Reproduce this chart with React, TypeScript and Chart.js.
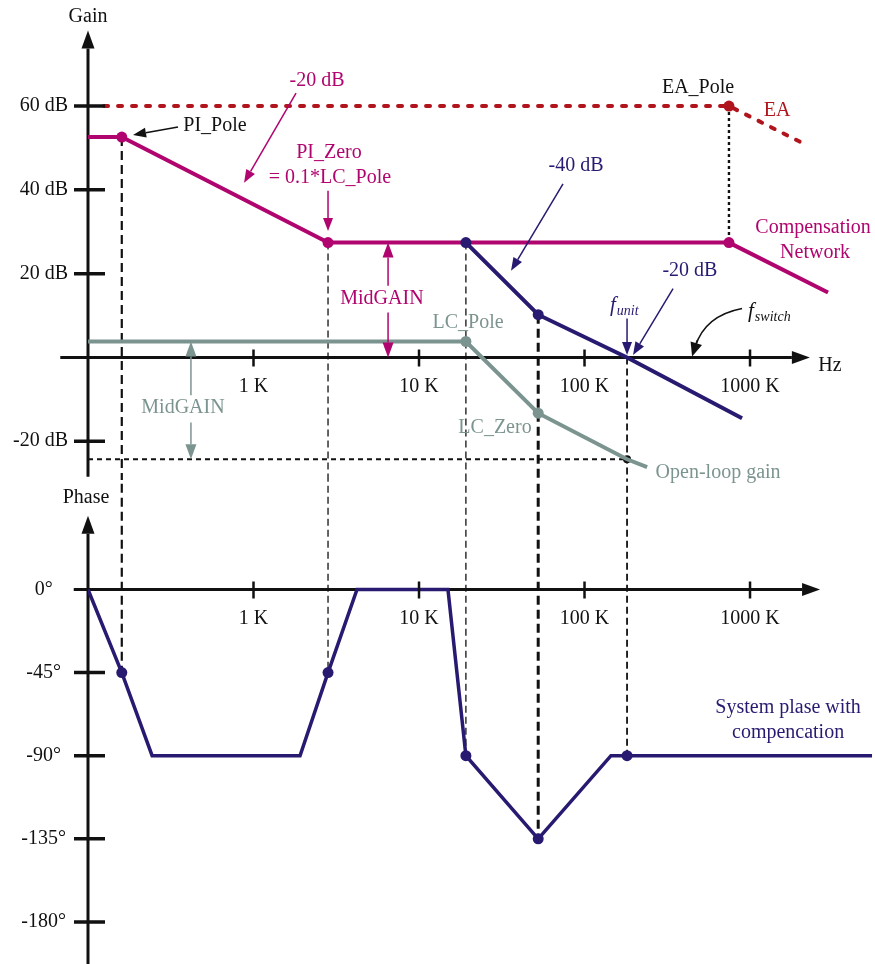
import React, { useEffect, useRef } from 'react';
import { Chart, registerables } from 'chart.js';
Chart.register(...registerables);

const FONT = '"Liberation Serif", "Times New Roman", Times, serif';
const C_MAG = '#b0046e';
const C_NAVY = '#281a70';
const C_GRAY = '#7c9490';
const C_RED = '#b0141c';
const C_BLACK = '#111111';

// frequency axis (Hz, log)
const F_MIN = 100;
const F_MAX = 5.69e6;
const FREQ_TICKS = [1e3, 1e4, 1e5, 1e6];
const FREQ_TICK_LABELS = ['1 K', '10 K', '100 K', '1000 K'];

// gain axis (dB)
const GAIN_MIN = -29.25;
const GAIN_MAX = 85.3;
const GAIN_AXIS_END = -28.5;
const GAIN_TICKS = [60, 40, 20, -20];
const GAIN_TICK_LABELS = ['60 dB', '40 dB', '20 dB', '-20 dB'];

// phase axis (deg)
const PHASE_MIN = -202.8;
const PHASE_MAX = 59.3;
const PHASE_TICKS = [0, -45, -90, -135, -180];
const PHASE_TICK_LABELS = ['0°', '-45°', '-90°', '-135°', '-180°'];

// key frequencies (Hz)
const PI_POLE = 160;
const PI_ZERO = 2820;
const LC_POLE = 19200;
const LC_ZERO = 52500;
const F_UNIT = 180700;
const EA_POLE = 746000;

// gain series
const EA_FREQ = [125, 746000, 2240000];
const EA_GAIN = [60, 60, 50.5];
const EA_DOTS = [0, 5.5, 0];

const COMP_FREQ = [100, 160, 2820, 746000, 2960000];
const COMP_GAIN = [52.6, 52.6, 27.4, 27.4, 15.5];
const COMP_DOTS = [0, 5.5, 5.5, 5.5, 0];

const OPEN_FREQ = [100, 19200, 52500, 180700, 239000];
const OPEN_GAIN = [3.8, 3.8, -13.3, -24.3, -26.2];
const OPEN_DOTS = [0, 5.5, 5.5, 0, 0];

const SYS_FREQ = [19200, 52500, 180700, 895000];
const SYS_GAIN = [27.4, 10.2, 0, -14.5];
const SYS_DOTS = [5.5, 5.5, 0, 0];

// phase series
const PHASE_FREQ = [100, 160, 244, 1910, 2820, 4220, 14960, 19200, 52500, 144500, 180700, 5460000];
const PHASE_DEG = [0, -45, -90, -90, -45, 0, 0, -90, -135, -90, -90, -90];
const PHASE_DOTS = [0, 5.5, 0, 0, 5.5, 0, 0, 5.5, 5.5, 0, 5.5, 0];

// guide values
const UNIT_OPEN_GAIN = -24.3;
const MID_GAIN_COMP = 27.4;
const MID_GAIN_OPEN = 3.8;

type Pt = { x: number; y: number };
const pts = (fs: number[], vs: number[]): Pt[] => fs.map((f, i) => ({ x: f, y: vs[i] }));

function series(data: Pt[], color: string, width: number, dash: number[], radii: number[] | number, order: number, cap = 'butt', dotColor?: string) {
  return {
    data,
    borderColor: color,
    backgroundColor: dotColor || color,
    borderWidth: width,
    borderDash: dash,
    borderCapStyle: cap,
    borderJoinStyle: 'miter',
    pointRadius: radii,
    pointHoverRadius: 0,
    pointBackgroundColor: dotColor || color,
    pointBorderWidth: 0,
    tension: 0,
    fill: false,
    order,
  };
}

function arrow(ctx: CanvasRenderingContext2D, x1: number, y1: number, x2: number, y2: number, color: string, lw: number, hl = 13, hw = 5) {
  const a = Math.atan2(y2 - y1, x2 - x1);
  const bx = x2 - hl * Math.cos(a);
  const by = y2 - hl * Math.sin(a);
  ctx.setLineDash([]);
  ctx.strokeStyle = color;
  ctx.lineWidth = lw;
  ctx.beginPath();
  ctx.moveTo(x1, y1);
  ctx.lineTo(bx, by);
  ctx.stroke();
  ctx.fillStyle = color;
  ctx.beginPath();
  ctx.moveTo(x2, y2);
  ctx.lineTo(bx + hw * Math.sin(a), by - hw * Math.cos(a));
  ctx.lineTo(bx - hw * Math.sin(a), by + hw * Math.cos(a));
  ctx.closePath();
  ctx.fill();
}

function helpers(chart: any) {
  const xs = chart.scales.x;
  const ys = chart.scales.y;
  const X = (lf: number) => xs.getPixelForValue(Math.pow(10, lf));
  const Y = (v: number) => ys.getPixelForValue(v);
  const ctx: CanvasRenderingContext2D = chart.ctx;
  const text = (s: string, lf: number, v: number, color: string, size = 20, align: CanvasTextAlign = 'center', italic = false) => {
    ctx.font = `${italic ? 'italic ' : ''}${size}px ${FONT}`;
    ctx.fillStyle = color;
    ctx.textAlign = align;
    ctx.textBaseline = 'middle';
    ctx.fillText(s, X(lf), Y(v));
  };
  const sub = (main: string, subs: string, lf: number, v: number, color: string) => {
    const x = X(lf);
    const y = Y(v);
    ctx.font = `italic 21px ${FONT}`;
    ctx.fillStyle = color;
    ctx.textAlign = 'left';
    ctx.textBaseline = 'middle';
    ctx.fillText(main, x, y);
    const w = ctx.measureText(main).width;
    ctx.font = `italic 14px ${FONT}`;
    ctx.fillText(subs, x + w + 1, y + 6);
  };
  return { xs, ys, X, Y, ctx, text, sub };
}

function drawAxes(chart: any, xFrom: number, xTo: number, yTo: number, yFromPx: number) {
  const { X, Y, ctx } = helpers(chart);
  const ax = X(2);
  const ay = Y(0);
  ctx.save();
  arrow(ctx, ax, yFromPx, ax, Y(yTo), C_BLACK, 3, 18, 6.5);
  arrow(ctx, X(Math.log10(xFrom)), ay, X(Math.log10(xTo)), ay, C_BLACK, 3, 18, 6.5);
  ctx.restore();
}

function drawTicks(chart: any, yTicks: number[]) {
  const { xs, X, Y, ctx } = helpers(chart);
  const ax = X(2);
  const ay = Y(0);
  ctx.save();
  ctx.setLineDash([]);
  ctx.strokeStyle = C_BLACK;
  ctx.lineWidth = 3.5;
  ctx.beginPath();
  for (const v of yTicks) {
    const py = Y(v);
    ctx.moveTo(ax - 14, py);
    ctx.lineTo(ax + 17, py);
  }
  ctx.stroke();
  ctx.lineWidth = 2.5;
  ctx.beginPath();
  for (const f of FREQ_TICKS) {
    const px = xs.getPixelForValue(f);
    ctx.moveTo(px, ay - 8);
    ctx.lineTo(px, ay + 9);
  }
  ctx.stroke();
  ctx.restore();
}

const gainDecor = {
  id: 'gainDecor',
  beforeDatasetsDraw(chart: any) {
    drawAxes(chart, 68, 2.3e6, 78, chart.scales.y.getPixelForValue(GAIN_AXIS_END));
  },
  afterDatasetsDraw(chart: any) {
    drawTicks(chart, GAIN_TICKS);
    const { X, Y, ctx, text, sub } = helpers(chart);
    ctx.save();
    text('Gain', 2, 81.4, C_BLACK);
    text('Hz', 6.483, -2.1, C_BLACK);
    text('EA_Pole', 5.686, 64.3, C_BLACK);
    text('EA', 6.163, 58.8, C_RED);

    text('-20 dB', 3.384, 66, C_MAG);
    arrow(ctx, X(3.257), Y(63.1), X(2.943), Y(41.7), C_MAG, 1.5);

    text('PI_Pole', 2.767, 55.2, C_BLACK);
    arrow(ctx, X(2.544), Y(55), X(2.272), Y(53.1), C_BLACK, 1.5);

    text('PI_Zero', 3.456, 48.8, C_MAG);
    text('= 0.1*LC_Pole', 3.462, 42.9, C_MAG);
    const lfz = Math.log10(PI_ZERO);
    arrow(ctx, X(lfz), Y(39.8), X(lfz), Y(30.2), C_MAG, 1.5);

    text('-40 dB', 4.949, 45.7, C_NAVY);
    arrow(ctx, X(4.87), Y(41.4), X(4.556), Y(20.7), C_NAVY, 1.5);

    text('Compensation', 6.381, 31, C_MAG);
    text('Network', 6.393, 25, C_MAG);

    text('-20 dB', 5.637, 20.7, C_NAVY);
    arrow(ctx, X(5.535), Y(16.4), X(5.293), Y(0.6), C_NAVY, 1.5);

    sub('f', 'unit', 5.154, 12.4, C_NAVY);
    const lfu = Math.log10(F_UNIT);
    arrow(ctx, X(lfu), Y(9.3), X(lfu), Y(0.6), C_NAVY, 1.5);

    sub('f', 'switch', 5.988, 10.9, C_BLACK);
    const sx = X(5.952), sy = Y(11.7), cx = X(5.728), cy = Y(10), ex = X(5.65), ey = Y(0.2);
    ctx.setLineDash([]);
    ctx.strokeStyle = C_BLACK;
    ctx.lineWidth = 1.5;
    ctx.beginPath();
    ctx.moveTo(sx, sy);
    ctx.quadraticCurveTo(cx, cy, ex + (cx - ex) * 0.25, ey + (cy - ey) * 0.25);
    ctx.stroke();
    arrow(ctx, cx + (ex - cx) * 0.6, cy + (ey - cy) * 0.6, ex, ey, C_BLACK, 1.5, 14, 6);

    text('LC_Pole', 4.296, 8.3, C_GRAY);
    text('LC_Zero', 4.459, -16.7, C_GRAY);
    text('Open-loop gain', 5.807, -27.6, C_GRAY);

    text('MidGAIN', 3.776, 14, C_MAG);
    arrow(ctx, X(3.813), Y(17.1), X(3.813), Y(MID_GAIN_COMP), C_MAG, 1.5, 15, 5.5);
    arrow(ctx, X(3.813), Y(10.7), X(3.813), Y(0), C_MAG, 1.5, 15, 5.5);

    text('MidGAIN', 2.574, -12.1, C_GRAY);
    arrow(ctx, X(2.622), Y(-9), X(2.622), Y(MID_GAIN_OPEN), C_GRAY, 1.5, 15, 5.5);
    arrow(ctx, X(2.622), Y(-15.5), X(2.622), Y(UNIT_OPEN_GAIN), C_GRAY, 1.5, 15, 5.5);
    ctx.restore();
  },
};

const phaseDecor = {
  id: 'phaseDecor',
  beforeDatasetsDraw(chart: any) {
    drawAxes(chart, 82, 2.65e6, 40, chart.height);
  },
  afterDatasetsDraw(chart: any) {
    drawTicks(chart, PHASE_TICKS.filter((v) => v !== 0));
    const { ctx, text } = helpers(chart);
    ctx.save();
    text('Phase', 1.988, 49.7, C_BLACK);
    text('System plase with', 6.23, -63.8, C_NAVY);
    text('compencation', 6.23, -77.8, C_NAVY);
    ctx.restore();
  },
};

function scalesFor(yMin: number, yMax: number, yTicks: number[], yLabels: string[], crossAlign: string, yPad: number, xPad: number) {
  return {
    x: {
      type: 'logarithmic',
      min: F_MIN,
      max: F_MAX,
      position: { y: 0 },
      grid: { display: false, drawTicks: false },
      border: { display: false },
      ticks: {
        autoSkip: false,
        maxRotation: 0,
        minRotation: 0,
        padding: xPad,
        color: C_BLACK,
        font: { family: FONT, size: 20 },
        callback: (_v: any, i: number) => FREQ_TICK_LABELS[i],
      },
      afterBuildTicks: (s: any) => {
        s.ticks = FREQ_TICKS.map((v) => ({ value: v }));
      },
      afterFit: (s: any) => {
        s.paddingLeft = 0;
        s.paddingRight = 0;
        s.paddingTop = 0;
        s.paddingBottom = 0;
      },
    },
    y: {
      type: 'linear',
      position: 'left',
      min: yMin,
      max: yMax,
      grid: { display: false, drawTicks: false },
      border: { display: false },
      ticks: {
        autoSkip: false,
        padding: yPad,
        crossAlign,
        color: C_BLACK,
        font: { family: FONT, size: 20 },
        callback: (_v: any, i: number) => yLabels[i],
      },
      afterBuildTicks: (s: any) => {
        s.ticks = yTicks.map((v) => ({ value: v }));
      },
      afterFit: (s: any) => {
        s.width = 88;
        s.paddingTop = 0;
        s.paddingBottom = 0;
        s.paddingLeft = 0;
        s.paddingRight = 0;
      },
    },
  };
}

const commonPlugins = { legend: { display: false }, tooltip: { enabled: false }, title: { display: false } };

function gainConfig(): any {
  const vert = (f: number, from: number, to: number) => pts([f, f], [from, to]);
  return {
    type: 'line',
    data: {
      datasets: [
        series(pts(SYS_FREQ, SYS_GAIN), C_NAVY, 4, [], SYS_DOTS, 1),
        series(pts(COMP_FREQ, COMP_GAIN), C_MAG, 4, [], COMP_DOTS, 2),
        series(pts(OPEN_FREQ, OPEN_GAIN), C_GRAY, 4, [], OPEN_DOTS, 3),
        series(pts(EA_FREQ, EA_GAIN), C_RED, 4, [4, 10], EA_DOTS, 4, 'round'),
        series(vert(PI_POLE, 52.6, -40), C_BLACK, 2.2, [9, 5], 0, 10),
        series(vert(PI_ZERO, 27.4, -40), C_BLACK, 1.3, [7, 4], 0, 10),
        series(vert(LC_POLE, 27.4, -40), C_BLACK, 1.3, [7, 4], 0, 10),
        series(vert(LC_ZERO, 10.2, -40), C_BLACK, 3, [9, 5], 0, 10),
        series(vert(F_UNIT, 0, -40), C_BLACK, 1.8, [7, 4], 0, 10),
        series(vert(EA_POLE, 60, 27.4), C_BLACK, 2.4, [3, 3], 0, 10),
        series(pts([F_MIN, F_UNIT], [UNIT_OPEN_GAIN, UNIT_OPEN_GAIN]), C_BLACK, 1.8, [5, 4], [0, 4], 9),
      ],
    },
    options: {
      responsive: false,
      animation: false,
      events: [],
      layout: { padding: { top: 0, left: 0, right: 0, bottom: 20 }, autoPadding: false },
      plugins: commonPlugins,
      scales: scalesFor(GAIN_MIN, GAIN_MAX, GAIN_TICKS, GAIN_TICK_LABELS, 'near', 20, 17),
    },
    plugins: [gainDecor],
  };
}

function phaseConfig(): any {
  const vert = (f: number, from: number, to: number) => pts([f, f], [from, to]);
  return {
    type: 'line',
    data: {
      datasets: [
        series(pts(PHASE_FREQ, PHASE_DEG), C_NAVY, 3.5, [], PHASE_DOTS, 1),
        series(vert(PI_POLE, 80, -45), C_BLACK, 2.2, [9, 5], 0, 10),
        series(vert(PI_ZERO, 80, -45), C_BLACK, 1.3, [7, 4], 0, 10),
        series(vert(LC_POLE, 80, -90), C_BLACK, 1.3, [7, 4], 0, 10),
        series(vert(LC_ZERO, 80, -135), C_BLACK, 3, [9, 5], 0, 10),
        series(vert(F_UNIT, 80, -90), C_BLACK, 1.8, [7, 4], 0, 10),
      ],
    },
    options: {
      responsive: false,
      animation: false,
      events: [],
      layout: { padding: 0, autoPadding: false },
      plugins: commonPlugins,
      scales: scalesFor(PHASE_MIN, PHASE_MAX, PHASE_TICKS, PHASE_TICK_LABELS, 'center', 22, 17),
    },
    plugins: [phaseDecor],
  };
}

export default function App() {
  const gRef = useRef<HTMLCanvasElement>(null);
  const pRef = useRef<HTMLCanvasElement>(null);
  useEffect(() => {
    const g = new Chart(gRef.current as HTMLCanvasElement, gainConfig());
    const p = new Chart(pRef.current as HTMLCanvasElement, phaseConfig());
    return () => {
      g.destroy();
      p.destroy();
    };
  }, []);
  return (
    <div style={{ position: 'absolute', left: 0, top: 0, width: 875, height: 964, background: '#ffffff' }}>
      <canvas ref={pRef} width={875} height={484} style={{ position: 'absolute', left: 0, top: 480, width: 875, height: 484 }} />
      <canvas ref={gRef} width={875} height={500} style={{ position: 'absolute', left: 0, top: 0, width: 875, height: 500, zIndex: 1 }} />
    </div>
  );
}
